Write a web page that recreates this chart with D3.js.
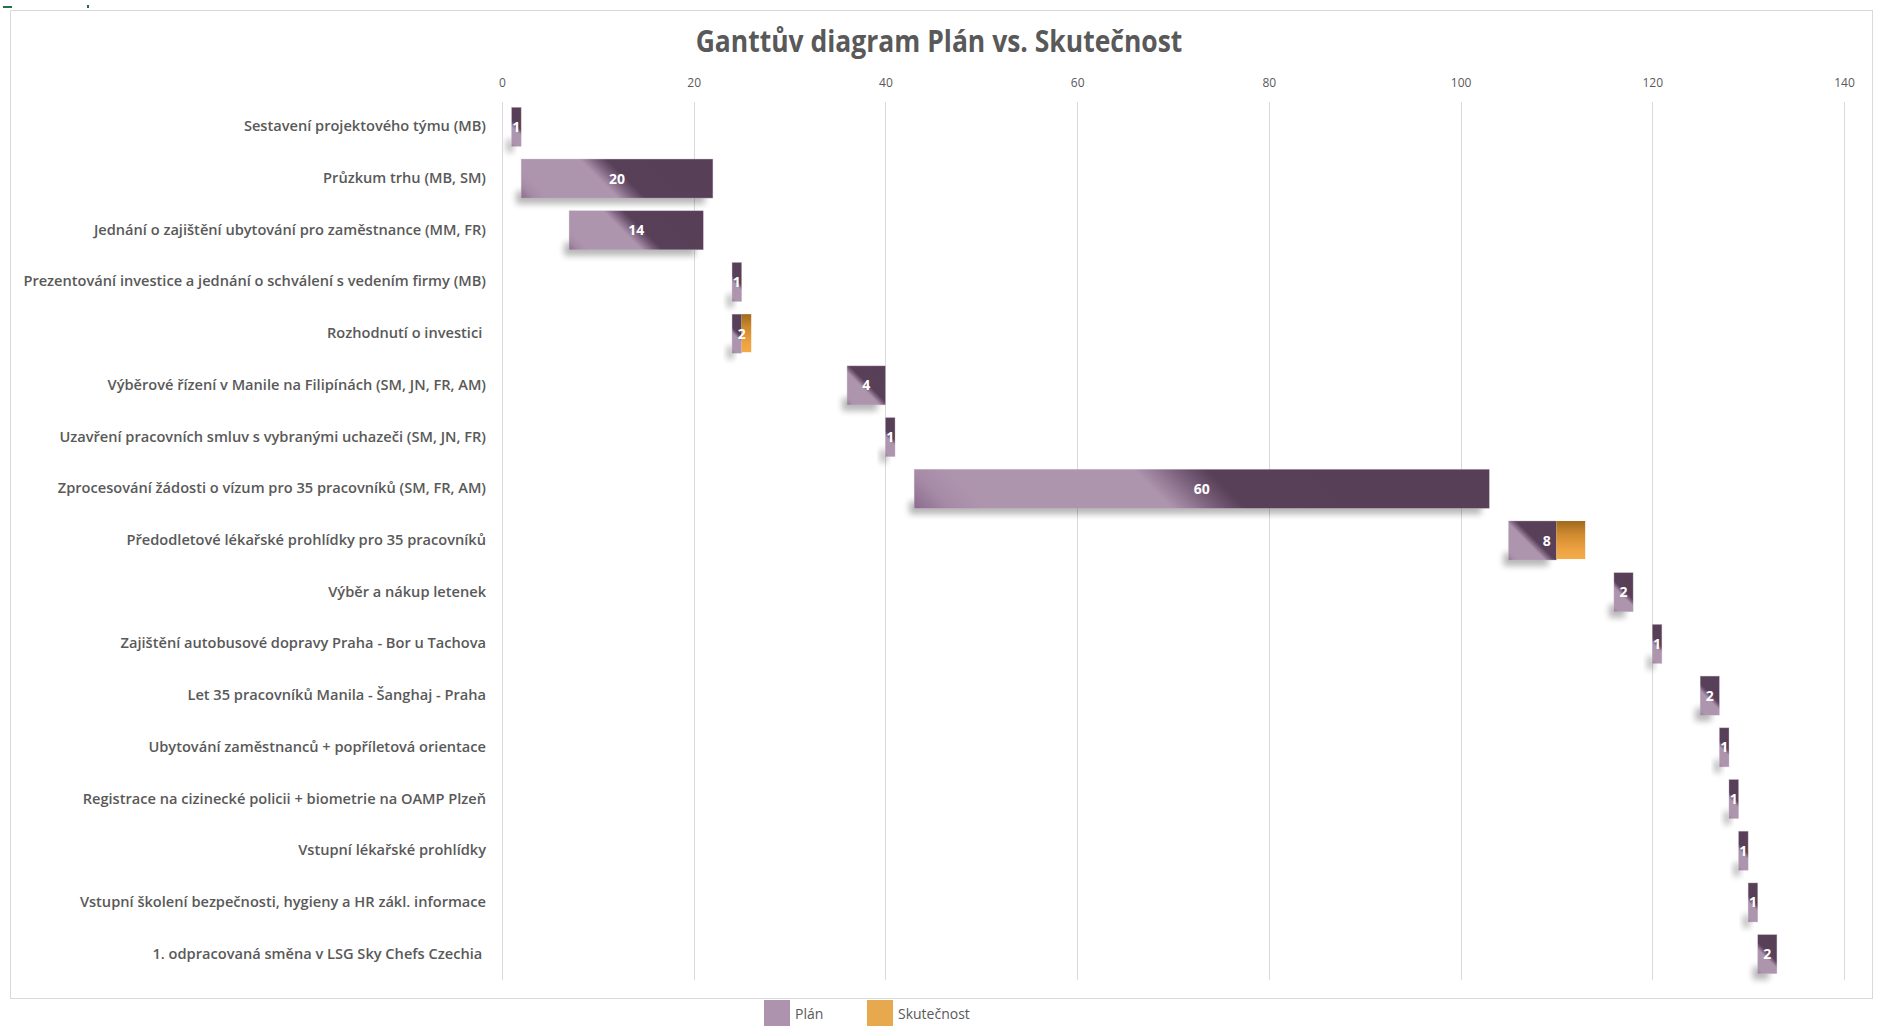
<!DOCTYPE html>
<html>
<head>
<meta charset="utf-8">
<script src="https://cdn.jsdelivr.net/npm/d3@7"></script>
<style>
  html, body { margin: 0; padding: 0; background: #ffffff; }
  svg { display: block; }
  text { font-family: "Open Sans", "Noto Sans", sans-serif; }
</style>
</head>
<body>
<svg id="chart" width="1883" height="1026"></svg>
<script>
// ---- data ----
const chartTitle = "Ganttův diagram Plán vs. Skutečnost";
const categories = [
  "Sestavení projektového týmu (MB)",
  "Průzkum trhu (MB, SM)",
  "Jednání o zajištění ubytování pro zaměstnance (MM, FR)",
  "Prezentování investice a jednání o schválení s vedením firmy (MB)",
  "Rozhodnutí o investici ",
  "Výběrové řízení v Manile na Filipínách (SM, JN, FR, AM)",
  "Uzavření pracovních smluv s vybranými uchazeči (SM, JN, FR)",
  "Zprocesování žádosti o vízum pro 35 pracovníků (SM, FR, AM)",
  "Předodletové lékařské prohlídky pro 35 pracovníků",
  "Výběr a nákup letenek",
  "Zajištění autobusové dopravy Praha - Bor u Tachova",
  "Let 35 pracovníků Manila - Šanghaj - Praha",
  "Ubytování zaměstnanců + popříletová orientace",
  "Registrace na cizinecké policii + biometrie na OAMP Plzeň",
  "Vstupní lékařské prohlídky",
  "Vstupní školení bezpečnosti, hygieny a HR zákl. informace",
  "1. odpracovaná směna v LSG Sky Chefs Czechia "
];
const startDay   = [1, 2, 7, 24, 24, 36, 40, 43, 105, 116, 120, 125, 127, 128, 129, 130, 131];
const planDays   = [1, 20, 14, 1, 1, 4, 1, 60, 5, 2, 1, 2, 1, 1, 1, 1, 2];
const actualExtraDays = [0, 0, 0, 0, 1, 0, 0, 0, 3, 0, 0, 0, 0, 0, 0, 0, 0];
const barLabels  = [1, 20, 14, 1, 2, 4, 1, 60, 8, 2, 1, 2, 1, 1, 1, 1, 2];
const xTicks = [0, 20, 40, 60, 80, 100, 120, 140];
const seriesNames = ["Plán", "Skutečnost"];

// ---- layout ----
const W = 1883, H = 1026;
const plot = { left: 502, right: 1844, top: 101, bottom: 980 };
const textColor = "#595959";
const gridColor = "#d9d9d9";

const svg = d3.select("#chart");
const defs = svg.append("defs");

// chart border
svg.append("rect").attr("x", 10.5).attr("y", 10.5).attr("width", 1862).attr("height", 988)
  .attr("fill", "#fff").attr("stroke", gridColor).attr("stroke-width", 1);

// tiny sheet artifacts top-left
svg.append("rect").attr("x", 3).attr("y", 6).attr("width", 9).attr("height", 2).attr("fill", "#217346");
svg.append("rect").attr("x", 87).attr("y", 5).attr("width", 2).attr("height", 3).attr("fill", "#217346");

const x = d3.scaleLinear().domain([0, 140]).range([plot.left, plot.right]);
const y = d3.scaleBand().domain(categories).range([plot.top, plot.bottom])
  .paddingInner(0.245).paddingOuter(0.1225);

// gridlines
svg.append("g").selectAll("line").data(xTicks).join("line")
  .attr("x1", d => Math.round(x(d)) + 0.5).attr("x2", d => Math.round(x(d)) + 0.5)
  .attr("y1", plot.top + 1).attr("y2", plot.bottom)
  .attr("stroke", gridColor).attr("stroke-width", 1);

// top axis
const xAxis = svg.append("g").attr("transform", `translate(0,${plot.top})`)
  .call(d3.axisTop(x).tickValues(xTicks).tickSize(0).tickPadding(14).tickFormat(d3.format("d")));
xAxis.select(".domain").remove();
xAxis.selectAll("text").attr("fill", textColor).attr("font-size", 12).attr("font-family", "'Open Sans', sans-serif");

// left axis (category labels)
const yAxis = svg.append("g").attr("transform", `translate(${plot.left},0)`)
  .call(d3.axisLeft(y).tickSize(0).tickPadding(0));
yAxis.select(".domain").remove();
const yTexts = yAxis.selectAll("text")
  .attr("fill", textColor).attr("font-size", 14).attr("font-weight", 600)
  .attr("font-family", "'Open Sans', sans-serif")
  .style("white-space", "pre");
let maxLen = 0;
yTexts.each(function() { maxLen = Math.max(maxLen, this.getComputedTextLength()); });
const kY = 463 / maxLen;
yTexts.attr("x", 0).attr("transform", `translate(-16,0) scale(${kY},1)`);

// shadows under plan bars
const blur = defs.append("filter").attr("id", "shadowBlur")
  .attr("x", "-50%").attr("y", "-100%").attr("width", "200%").attr("height", "300%");
blur.append("feGaussianBlur").attr("stdDeviation", 3);

const idx = d3.range(categories.length);
const bh = y.bandwidth();

svg.append("g").selectAll("rect").data(idx).join("rect")
  .attr("x", i => x(startDay[i]) - 5)
  .attr("y", i => y(categories[i]) + bh - 7)
  .attr("width", i => Math.max(x(startDay[i] + planDays[i]) - x(startDay[i]) - 3, 5))
  .attr("height", 13)
  .attr("fill", "#000").attr("opacity", 0.28)
  .attr("filter", "url(#shadowBlur)");

// per-bar diagonal gradients for Plán
idx.forEach(i => {
  const x0 = x(startDay[i]), x1 = x(startDay[i] + planDays[i]);
  const w = x1 - x0, y0 = y(categories[i]);
  const g = defs.append("linearGradient").attr("id", "planGrad" + i)
    .attr("gradientUnits", "userSpaceOnUse")
    .attr("x1", x0).attr("y1", y0 + bh)
    .attr("x2", x0 + (w + bh) / 2).attr("y2", y0 + bh - (w + bh) / 2);
  [[0, "#8c6b8d"], [0.06, "#a68ba7"], [0.12, "#ae95ae"], [0.42, "#ae95ae"],
   [0.49, "#7a5f7b"], [0.54, "#574058"], [1, "#573f58"]].forEach(s =>
    g.append("stop").attr("offset", s[0]).attr("stop-color", s[1]));
});

const orangeGrad = defs.append("linearGradient").attr("id", "actGrad")
  .attr("x1", 0).attr("y1", 0).attr("x2", 0).attr("y2", 1);
[[0, "#9f6a1f"], [0.35, "#cf8a2e"], [0.75, "#eda242"], [1, "#f3ab47"]].forEach(s =>
  orangeGrad.append("stop").attr("offset", s[0]).attr("stop-color", s[1]));

// plan bars
svg.append("g").selectAll("rect").data(idx).join("rect")
  .attr("x", i => x(startDay[i]))
  .attr("y", i => y(categories[i]))
  .attr("width", i => x(startDay[i] + planDays[i]) - x(startDay[i]))
  .attr("height", bh)
  .attr("fill", i => `url(#planGrad${i})`)
  .attr("stroke", "#c8b4c8").attr("stroke-width", 0.6).attr("stroke-opacity", 0.6);

// actual (delay) bars
svg.append("g").selectAll("rect").data(idx.filter(i => actualExtraDays[i] > 0)).join("rect")
  .attr("x", i => x(startDay[i] + planDays[i]))
  .attr("y", i => y(categories[i]))
  .attr("width", i => x(startDay[i] + planDays[i] + actualExtraDays[i]) - x(startDay[i] + planDays[i]))
  .attr("height", bh - 1)
  .attr("fill", "url(#actGrad)");

// bar labels
svg.append("g").selectAll("text").data(idx).join("text")
  .attr("x", i => (x(startDay[i]) + x(startDay[i] + planDays[i] + actualExtraDays[i])) / 2)
  .attr("y", i => y(categories[i]) + bh / 2 + 5)
  .attr("text-anchor", "middle")
  .attr("fill", "#ffffff").attr("font-size", 14).attr("font-weight", 700)
  .text(i => barLabels[i]);

// title
const title = svg.append("text")
  .attr("text-anchor", "middle").attr("fill", textColor)
  .attr("font-size", 30).attr("font-weight", 700)
  .text(chartTitle);
const tLen = title.node().getComputedTextLength();
const kT = 487 / tLen;
title.attr("transform", `translate(939,52) scale(${kT},1)`);

// legend
const legendColors = ["#ad93ad", "#e8a94e"];
const legendX = [764, 867];
const lg = svg.append("g");
seriesNames.forEach((name, j) => {
  lg.append("rect").attr("x", legendX[j]).attr("y", 1000).attr("width", 26).attr("height", 30)
    .attr("fill", legendColors[j]);
  lg.append("text").attr("x", legendX[j] + 31).attr("y", 1019)
    .attr("fill", textColor).attr("font-size", 14)
    .text(name);
});
</script>
</body>
</html>
